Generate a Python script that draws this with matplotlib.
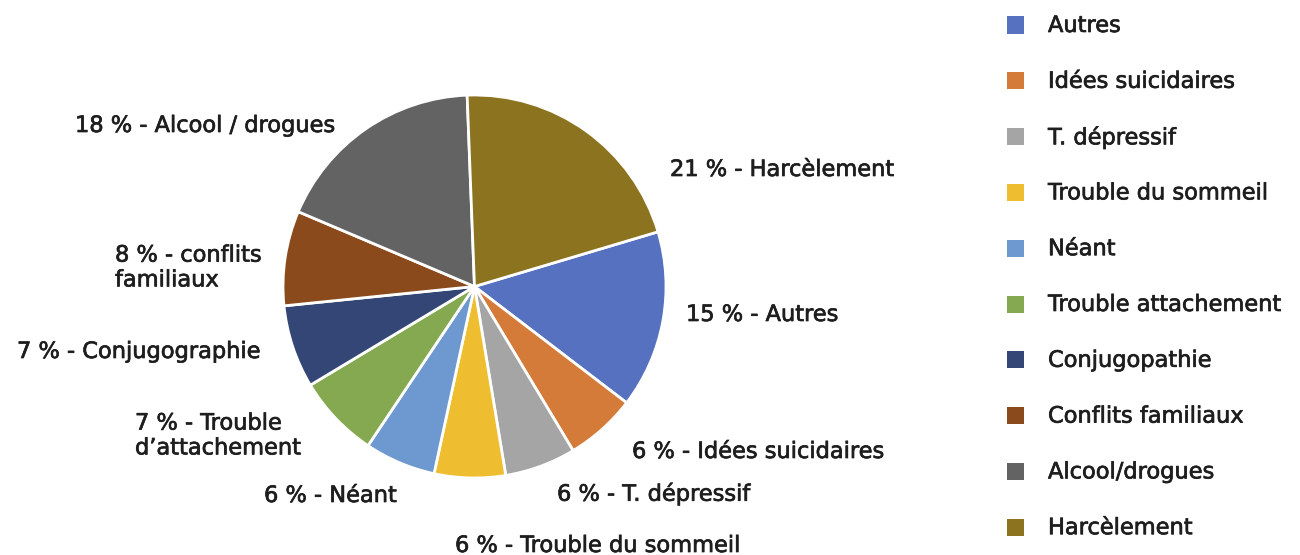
import matplotlib
matplotlib.use("Agg")
import matplotlib.pyplot as plt
from matplotlib.patches import Rectangle
import matplotlib.patheffects as pe

# ---- data ----
categories = ["Autres", "Idées suicidaires", "T. dépressif", "Trouble du sommeil",
              "Néant", "Trouble attachement", "Conjugopathie", "Conflits familiaux",
              "Alcool/drogues", "Harcèlement"]
values = [15, 6, 6, 6, 6, 7, 7, 8, 18, 21]
slice_labels = ["15 % - Autres", "6 % - Idées suicidaires", "6 % - T. dépressif",
                "6 % - Trouble du sommeil", "6 % - Néant", "7 % - Trouble\nd\u2019attachement",
                "7 % - Conjugographie", "8 % - conflits\nfamiliaux",
                "18 % - Alcool / drogues", "21 % - Harcèlement"]
colors = ["#5571C0", "#D57B3A", "#A5A5A5", "#EFBE30", "#6E98D0",
          "#84A951", "#344675", "#8B4A1C", "#636363", "#8B731F"]

# label anchor positions in figure pixels (x, y from top)
label_pos = [(686, 315), (632, 452), (557, 494), (455, 546), (264, 496),
             (135, 436), (17, 352), (115, 268), (75, 126), (670, 170)]

W, H = 1300, 555
plt.rcParams['font.family'] = ['DejaVu Sans']
fig = plt.figure(figsize=(W / 100, H / 100), dpi=100)

cx, cy, r = 474.5, 286.5, 191.5
ax = fig.add_axes([(cx - r) / W, (H - cy - r) / H, 2 * r / W, 2 * r / H])
ax.pie(values, colors=colors, startangle=16.6, counterclock=False, radius=1,
       wedgeprops=dict(edgecolor="white", linewidth=2.0))
ax.set_xlim(-1, 1)
ax.set_ylim(-1, 1)
ax.set_aspect("equal")
ax.axis("off")

txt_color = "#1e1e1e"
fs = 16.2
effects = [pe.withStroke(linewidth=0.5, foreground=txt_color)]
for lab, (px, py) in zip(slice_labels, label_pos):
    fig.text(px / W, 1 - py / H, lab, ha="left", va="center", fontsize=fs,
             color=txt_color, linespacing=1.3, path_effects=effects)

# legend
y0, dy = 26, 55.8
sq = 17
for i, (cat, col) in enumerate(zip(categories, colors)):
    yc = y0 + i * dy
    fig.patches.append(Rectangle((1007 / W, 1 - (yc - 1 + sq / 2) / H), sq / W, sq / H,
                                 transform=fig.transFigure, facecolor=col, edgecolor="none"))
    fig.text(1048 / W, 1 - yc / H, cat, ha="left", va="center", fontsize=fs,
             color=txt_color, path_effects=effects)

fig.savefig("out.png", dpi=100)
